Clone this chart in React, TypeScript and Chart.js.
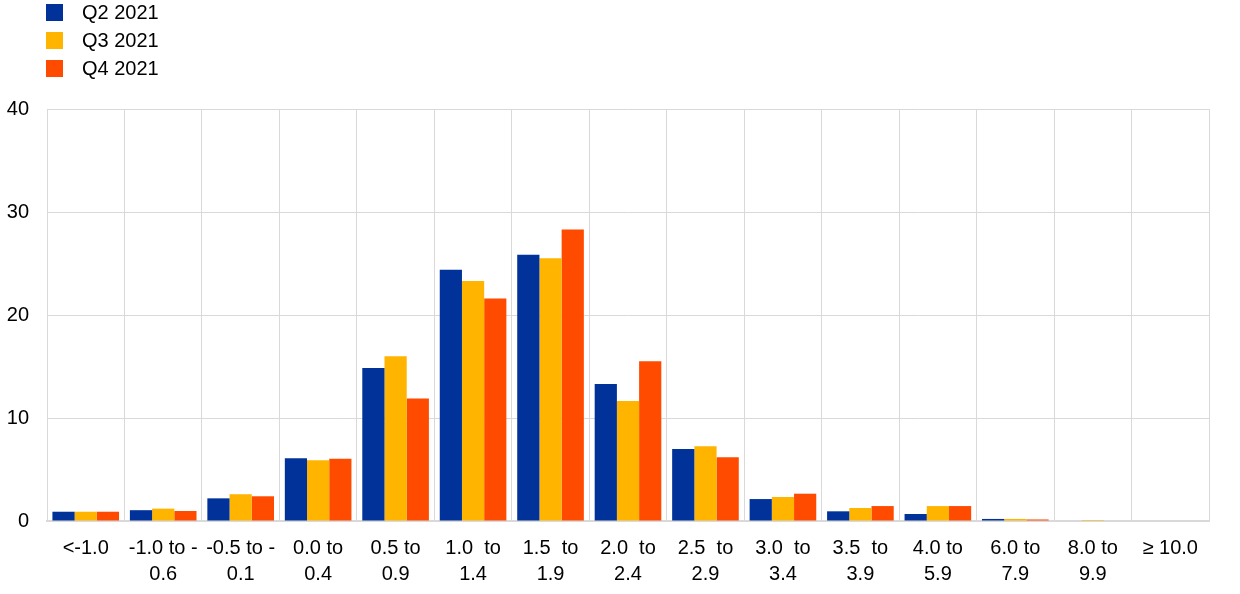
import React, { useEffect, useRef } from "react";
import { Chart, registerables } from "chart.js";

Chart.register(...registerables);

const categories: string[][] = [
  ["<-1.0"],
  ["-1.0 to -", "0.6"],
  ["-0.5 to -", "0.1"],
  ["0.0 to", "0.4"],
  ["0.5 to", "0.9"],
  ["1.0  to", "1.4"],
  ["1.5  to", "1.9"],
  ["2.0  to", "2.4"],
  ["2.5  to", "2.9"],
  ["3.0  to", "3.4"],
  ["3.5  to", "3.9"],
  ["4.0 to", "5.9"],
  ["6.0 to", "7.9"],
  ["8.0 to", "9.9"],
  ["≥ 10.0"],
];

const q2_2021 = [0.9, 1.05, 2.2, 6.1, 14.85, 24.4, 25.85, 13.3, 7.0, 2.13, 0.94, 0.68, 0.2, 0, 0];
const q3_2021 = [0.9, 1.2, 2.6, 5.9, 16.0, 23.3, 25.5, 11.65, 7.25, 2.33, 1.26, 1.45, 0.2, 0.1, 0];
const q4_2021 = [0.9, 0.97, 2.4, 6.05, 11.9, 21.6, 28.3, 15.5, 6.2, 2.65, 1.45, 1.45, 0.15, 0, 0];

const seriesNames = ["Q2 2021", "Q3 2021", "Q4 2021"];
const seriesColors = ["#003299", "#FFB400", "#FF4B00"];
const yTicks = [0, 10, 20, 30, 40];

const FONT = "'Liberation Sans', Arial, sans-serif";

const legendPlugin = {
  id: "customLegend",
  afterDraw(chart: any) {
    const ctx = chart.ctx;
    ctx.save();
    ctx.font = `20px ${FONT}`;
    ctx.textBaseline = "middle";
    ctx.textAlign = "left";
    chart.data.datasets.forEach((ds: any, i: number) => {
      const y = 4 + i * 28;
      ctx.fillStyle = ds.backgroundColor;
      ctx.fillRect(46, y, 17, 17);
      ctx.fillStyle = "#000000";
      ctx.fillText(ds.label, 82, y + 9);
    });
    ctx.restore();
  },
};

export default function App() {
  const canvasRef = useRef<HTMLCanvasElement | null>(null);

  useEffect(() => {
    document.body.style.margin = "0";
    const canvas = canvasRef.current;
    if (!canvas) return;
    const data = [q2_2021, q3_2021, q4_2021];
    const chart = new Chart(canvas, {
      type: "bar",
      data: {
        labels: categories,
        datasets: data.map((d, i) => ({
          label: seriesNames[i],
          data: d,
          backgroundColor: seriesColors[i],
          borderWidth: 0,
          categoryPercentage: 0.86,
          barPercentage: 1.0,
        })),
      },
      options: {
        responsive: false,
        animation: false,
        maintainAspectRatio: false,
        layout: { padding: { top: 109, left: 7, right: 31, bottom: 9 } },
        plugins: {
          legend: { display: false },
          tooltip: { enabled: false },
        },
        scales: {
          x: {
            offset: true,
            afterFit: (scale: any) => {
              scale.height = 64;
            },
            grid: {
              offset: true,
              color: "#d9d9d9",
              lineWidth: 1,
              drawTicks: false,
            },
            border: { color: "#d9d9d9", width: 2 },
            ticks: {
              color: "#000000",
              font: { family: FONT, size: 20, lineHeight: 1.3 },
              padding: 14,
              maxRotation: 0,
              autoSkip: false,
            },
          },
          y: {
            min: 0,
            max: 40,
            afterBuildTicks: (scale: any) => {
              scale.ticks = yTicks.map((v) => ({ value: v }));
            },
            afterFit: (scale: any) => {
              scale.width = 40;
            },
            grid: { color: "#d9d9d9", lineWidth: 1, drawTicks: false },
            border: { color: "#d9d9d9", width: 1 },
            ticks: {
              color: "#000000",
              font: { family: FONT, size: 20 },
              padding: 18,
            },
          },
        },
      },
      plugins: [legendPlugin],
    });
    return () => chart.destroy();
  }, []);

  return (
    <div style={{ width: 1240, height: 594 }}>
      <canvas ref={canvasRef} width={1240} height={594} style={{ display: "block" }} />
    </div>
  );
}
